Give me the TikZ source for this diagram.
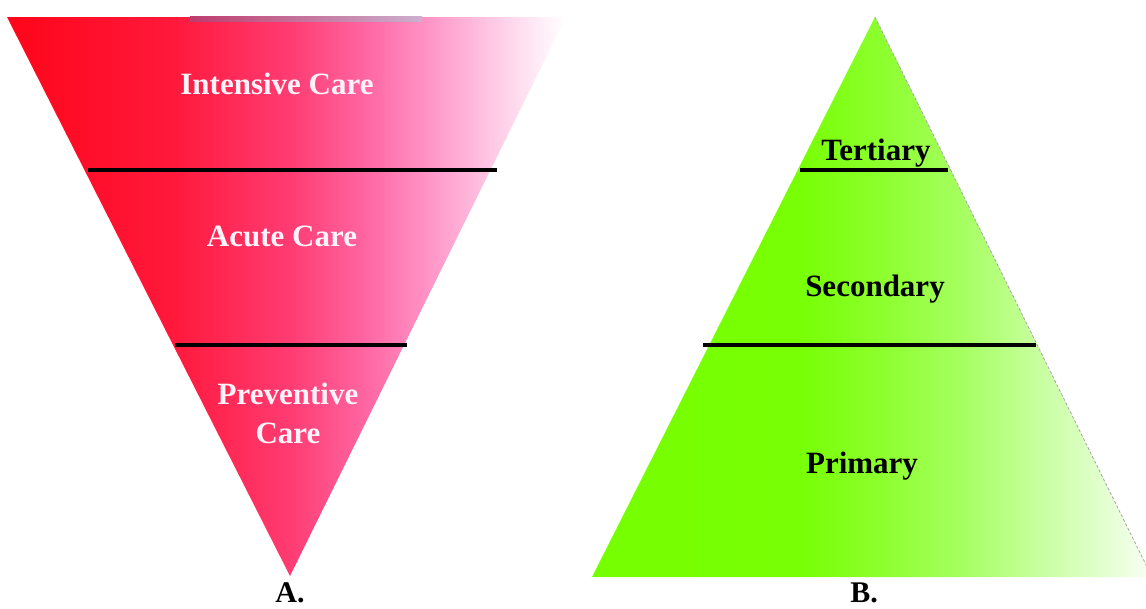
\documentclass[tikz,border=0pt]{standalone}
\usepackage{fontspec}
\setmainfont{Liberation Serif}
\definecolor{rA}{RGB}{255,5,25}
\definecolor{rB}{RGB}{255,25,60}
\definecolor{rC}{RGB}{255,60,115}
\definecolor{rD}{RGB}{255,105,165}
\definecolor{rE}{RGB}{255,150,200}
\definecolor{rF}{RGB}{255,200,228}
\definecolor{rG}{RGB}{255,238,248}
\definecolor{gA}{RGB}{118,255,0}
\definecolor{gB}{RGB}{120,255,5}
\definecolor{gC}{RGB}{140,255,45}
\definecolor{gD}{RGB}{165,255,95}
\definecolor{gE}{RGB}{200,255,160}
\definecolor{gF}{RGB}{225,255,205}
\definecolor{gG}{RGB}{250,255,245}
\definecolor{stripL}{RGB}{190,60,110}
\definecolor{stripR}{RGB}{205,175,205}
\definecolor{pinkwhite}{RGB}{255,242,248}
\pgfdeclarehorizontalshading{redfade}{100bp}{color(0bp)=(rA); color(25bp)=(rA); color(40bp)=(rB); color(50.4bp)=(rC); color(57.5bp)=(rD); color(62.9bp)=(rE); color(68.3bp)=(rF); color(72.8bp)=(rG); color(75bp)=(white); color(100bp)=(white)}
\pgfdeclarehorizontalshading{greenfade}{100bp}{color(0bp)=(gA); color(25bp)=(gA); color(43.6bp)=(gB); color(50.7bp)=(gC); color(57.9bp)=(gD); color(65bp)=(gE); color(70.4bp)=(gF); color(75bp)=(gG); color(100bp)=(gG)}
\tikzset{
  divider/.style={line width=4.5pt, black},
  whitelbl/.style={text=pinkwhite, font=\bfseries\fontsize{31}{39}\selectfont, anchor=base, align=center, inner sep=0pt},
  blacklbl/.style={text=black, font=\bfseries\fontsize{31}{39}\selectfont, anchor=base, inner sep=0pt},
  caplbl/.style={text=black, font=\bfseries\fontsize{30}{36}\selectfont, anchor=base, inner sep=0pt}
}
\begin{document}
\begin{tikzpicture}[x=1pt,y=-1pt]
\useasboundingbox (0,0) rectangle (1146,608);
% A: inverted triangle
\shade[shading=redfade] (7,17) -- (566,17) -- (290,576) -- cycle;
\shade[left color=stripL, right color=stripR] (190,16) rectangle (422,21);
\coordinate (ra1) at (88,170);
\coordinate (ra2) at (497,170);
\coordinate (rb1) at (175,345);
\coordinate (rb2) at (407,345);
\draw[divider] (ra1) -- (ra2);
\draw[divider] (rb1) -- (rb2);
\node[whitelbl] (intensive) at (277,94) {Intensive Care};
\node[whitelbl] (acute) at (282,246) {Acute Care};
\node[whitelbl] (preventive) at (288,443) {Preventive\\Care};
\node[caplbl] (labA) at (290,602) {A.};
% B: pyramid
\shade[shading=greenfade] (875,17) -- (1152,577) -- (592,577) -- cycle;
\coordinate (apex) at (875,17);
\coordinate (baseR) at (1152,577);
\draw[gray!70, densely dashed, line width=0.8pt] (apex) -- (baseR);
\coordinate (ga1) at (800,170);
\coordinate (ga2) at (948,170);
\coordinate (gb1) at (703,345);
\coordinate (gb2) at (1036,345);
\draw[divider] (ga1) -- (ga2);
\draw[divider] (gb1) -- (gb2);
\node[blacklbl] (tertiary) at (876,160) {Tertiary};
\node[blacklbl] (secondary) at (875,296) {Secondary};
\node[blacklbl] (primary) at (862,473) {Primary};
\node[caplbl] (labB) at (864,602) {B.};
\end{tikzpicture}
\end{document}
